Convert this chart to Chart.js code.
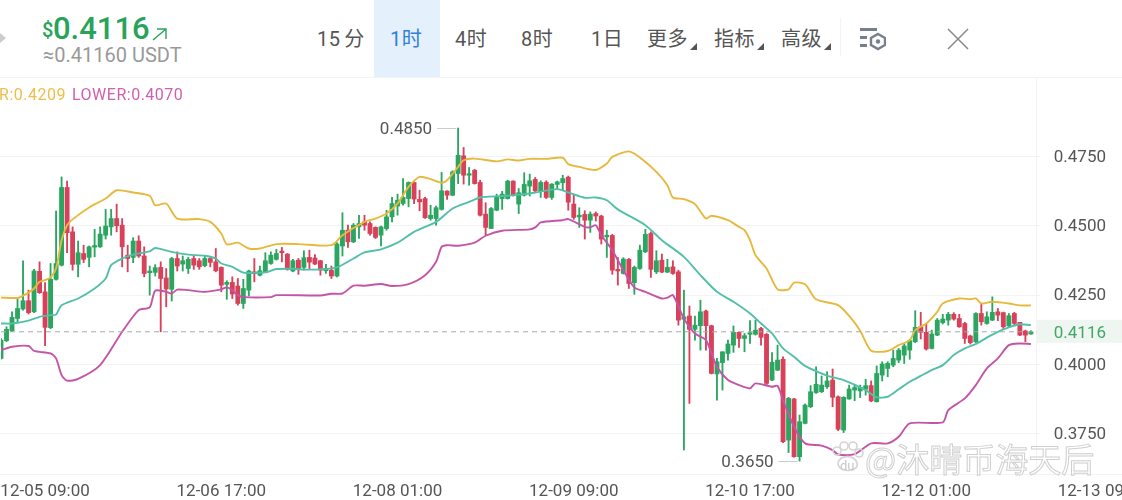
<!DOCTYPE html>
<html><head><meta charset="utf-8">
<style>
html,body{margin:0;padding:0;background:#fff;width:1122px;height:500px;overflow:hidden;font-family:Roboto,"Noto Sans CJK SC",sans-serif}
.t{position:absolute;white-space:nowrap;line-height:1}
.tab{top:29px;font-size:20px;color:#555;letter-spacing:.6px}
canvas{position:absolute;left:0;top:78px}
.tri{position:absolute;top:43px;width:0;height:0;border-left:7px solid transparent;border-bottom:7px solid #555}
</style></head><body>
<div style="position:absolute;left:0;top:77px;width:1122px;height:1px;background:#f3f3f3"></div>
<div style="position:absolute;left:374px;top:0;width:66px;height:77px;background:#e4f0fb"></div>
<div style="position:absolute;left:0;top:33px;width:0;height:0;border-left:6px solid #ccc;border-top:5px solid transparent;border-bottom:5px solid transparent"></div>
<div class="t" style="left:42px;top:20px;font-size:20px;color:#27a35a;font-weight:500">$</div>
<div class="t" style="left:53px;top:13px;font-size:31px;color:#27a35a;font-weight:500">0.4116</div>
<svg style="position:absolute;left:152px;top:27px" width="16" height="14"><path d="M1 13 L14 2 M5 2 H14 V12" fill="none" stroke="#27a35a" stroke-width="1.4"/></svg>
<div class="t" style="left:43px;top:45px;font-size:20px;color:#999">≈0.41160 USDT</div>
<div class="t tab" style="left:317px;word-spacing:-2px">15 分</div>
<div class="t tab" style="left:390px;color:#2f7fd8">1时</div>
<div class="t tab" style="left:455px">4时</div>
<div class="t tab" style="left:521px">8时</div>
<div class="t tab" style="left:591px">1日</div>
<div class="t tab" style="left:647px">更多</div><div class="tri" style="left:690px"></div>
<div class="t tab" style="left:714px">指标</div><div class="tri" style="left:757px"></div>
<div class="t tab" style="left:781px">高级</div><div class="tri" style="left:824px"></div>
<div style="position:absolute;left:840px;top:18px;width:1px;height:38px;background:#f4f4f4"></div>
<svg style="position:absolute;left:860px;top:27px" width="26" height="24"><g fill="#76808c"><rect x="0" y="1" width="17" height="3"/><rect x="0" y="9" width="7" height="3"/><rect x="0" y="17" width="7" height="3"/></g><path d="M18 7 L25 11 V18 L18 22 L11 18 V11 Z" fill="none" stroke="#76808c" stroke-width="2.4"/><circle cx="18" cy="14.5" r="2.2" fill="#76808c"/></svg>
<svg style="position:absolute;left:946px;top:27px" width="24" height="24"><path d="M2 2 L22 22 M22 2 L2 22" stroke="#888" stroke-width="1.5"/></svg>
<canvas id="c" width="1122" height="422"></canvas>
<div class="t" style="right:1056px;top:87px;font-size:16px;color:#eebd4a;letter-spacing:.5px">UPPER:0.4209</div>
<div class="t" style="left:72px;top:87px;font-size:16px;color:#d05fb0;letter-spacing:.5px">LOWER:0.4070</div>
<svg style="position:absolute;left:830px;top:441px" width="34" height="34"><g fill="none" stroke="#d4d4d4" stroke-width="1.6"><circle cx="7" cy="10" r="4"/><circle cx="14" cy="5" r="4"/><circle cx="23" cy="5" r="4"/><circle cx="29" cy="12" r="4"/><path d="M8 22 C10 14 24 13 27 22 C30 31 8 33 8 22 Z"/></g><text x="10" y="29" font-size="13" font-family="Roboto" fill="#c9c9c9">du</text></svg>
<div class="t" style="left:865px;top:442px;font-size:33px;color:rgba(255,255,255,.55);-webkit-text-stroke:1px #cfcfcf;font-family:'Noto Sans CJK SC',sans-serif">@沐晴币海天后</div>
<script src="https://cdn.jsdelivr.net/npm/chart.js@4"></script>
<script>
const tickIndex=[8,40,72,104,136,168,200];
const tickLabels=['12-05 09:00','12-06 17:00','12-08 01:00','12-09 09:00','12-10 17:00','12-12 01:00','12-13 09:00'];
const priceTicks=[0.375,0.4,0.4116,0.425,0.45,0.475];
const lastPrice=0.4116;
const opens=[.4020,.4084,.4120,.4164,.4198,.4228,.4188,.4334,.4260,.4131,.4305,.4356,.4636,.4476,.4359,.4398,.4384,.4421,.4422,.4464,.4494,.4524,.4500,.4392,.4384,.4443,.4389,.4329,.4330,.4348,.4310,.4269,.4380,.4360,.4344,.4380,.4372,.4354,.4380,.4368,.4348,.4287,.4294,.4281,.4218,.4266,.4332,.4320,.4332,.4362,.4377,.4403,.4396,.4335,.4374,.4348,.4384,.4382,.4372,.4336,.4338,.4317,.4425,.4482,.4440,.4494,.4512,.4506,.4492,.4464,.4488,.4530,.4569,.4578,.4596,.4654,.4593,.4596,.4524,.4524,.4557,.4623,.4608,.4686,.4750,.4680,.4698,.4654,.4540,.4488,.4554,.4596,.4596,.4659,.4576,.4608,.4641,.4665,.4623,.4655,.4600,.4647,.4653,.4673,.4576,.4530,.4539,.4518,.4542,.4533,.4458,.4463,.4341,.4326,.4377,.4293,.4344,.4404,.4470,.4332,.4374,.4331,.4350,.4332,.4161,.4173,.4125,.4138,.4191,.4138,.3964,.4005,.4038,.4068,.4114,.4092,.4107,.4107,.4128,.4107,.3942,.3978,.4017,.3726,.3874,.3666,.3786,.3846,.3897,.3900,.3918,.3942,.3882,.3762,.3874,.3906,.3903,.3909,.3922,.3864,.3960,.3984,.3996,.4014,.4032,.4050,.4080,.4134,.4114,.4056,.4104,.4149,.4158,.4179,.4164,.4146,.4101,.4080,.4182,.4146,.4158,.4188,.4185,.4137,.4182,.4150,.4119,.4108];
const closes=[.4086,.4125,.4168,.4200,.4228,.4185,.4335,.4257,.4132,.4305,.4362,.4636,.4473,.4359,.4401,.4377,.4422,.4426,.4468,.4497,.4524,.4498,.4422,.4380,.4443,.4389,.4326,.4335,.4347,.4308,.4270,.4380,.4353,.4372,.4377,.4356,.4350,.4380,.4366,.4336,.4284,.4294,.4252,.4218,.4272,.4335,.4326,.4336,.4372,.4392,.4398,.4401,.4341,.4372,.4343,.4383,.4367,.4360,.4338,.4344,.4317,.4432,.4482,.4440,.4500,.4506,.4500,.4470,.4456,.4494,.4530,.4578,.4590,.4600,.4654,.4594,.4584,.4527,.4536,.4563,.4624,.4608,.4692,.4752,.4680,.4684,.4650,.4536,.4492,.4560,.4602,.4612,.4659,.4608,.4617,.4647,.4660,.4624,.4654,.4600,.4648,.4656,.4668,.4583,.4528,.4536,.4518,.4540,.4533,.4450,.4462,.4338,.4335,.4378,.4290,.4348,.4410,.4467,.4341,.4372,.4331,.4348,.4326,.4158,.4170,.4125,.4140,.4188,.4138,.3966,.4008,.4044,.4072,.4114,.4092,.4102,.4110,.4122,.4096,.3930,.4006,.4014,.3720,.3876,.3666,.3792,.3852,.3900,.3927,.3924,.3939,.3880,.3765,.3880,.3910,.3915,.3916,.3922,.3867,.3966,.4000,.4002,.4020,.4050,.4065,.4084,.4132,.4114,.4054,.4108,.4158,.4162,.4179,.4162,.4134,.4092,.4077,.4182,.4152,.4170,.4186,.4176,.4134,.4174,.4146,.4104,.4104,.4116];
const highs=[.4092,.4134,.4188,.4236,.4372,.4266,.4341,.4368,.4293,.4362,.4551,.4674,.4659,.4494,.4443,.4428,.4425,.4485,.4494,.4557,.4557,.4576,.4524,.4428,.4455,.4462,.4422,.4353,.4358,.4368,.4344,.4384,.4404,.4389,.4384,.4389,.4380,.4389,.4384,.4416,.4350,.4300,.4314,.4308,.4305,.4338,.4380,.4353,.4401,.4404,.4413,.4420,.4398,.4377,.4380,.4408,.4410,.4394,.4374,.4359,.4353,.4437,.4545,.4500,.4506,.4536,.4536,.4512,.4494,.4497,.4554,.4600,.4612,.4668,.4656,.4656,.4626,.4600,.4572,.4569,.4690,.4624,.4696,.4850,.4780,.4708,.4701,.4662,.4581,.4564,.4612,.4622,.4662,.4660,.4632,.4689,.4684,.4672,.4660,.4660,.4650,.4659,.4680,.4677,.4608,.4563,.4552,.4548,.4548,.4536,.4482,.4467,.4384,.4383,.4380,.4353,.4428,.4485,.4476,.4408,.4396,.4377,.4372,.4338,.4266,.4209,.4173,.4230,.4194,.4140,.4020,.4044,.4086,.4137,.4116,.4110,.4156,.4158,.4132,.4110,.4041,.4068,.4026,.3880,.3876,.3816,.3856,.3922,.3990,.3957,.3972,.3982,.3885,.3882,.3924,.3924,.3924,.3945,.3939,.3993,.4008,.4008,.4050,.4056,.4072,.4089,.4192,.4186,.4146,.4122,.4164,.4179,.4186,.4185,.4179,.4150,.4104,.4185,.4218,.4188,.4242,.4200,.4187,.4182,.4186,.4150,.4122,.4120];
const lows=[.4017,.4080,.4116,.4152,.4194,.4180,.4185,.4254,.4066,.4127,.4302,.4353,.4401,.4338,.4314,.4365,.4350,.4386,.4420,.4450,.4464,.4476,.4350,.4332,.4365,.4384,.4314,.4248,.4317,.4116,.4206,.4227,.4335,.4335,.4326,.4341,.4341,.4350,.4350,.4332,.4260,.4233,.4236,.4212,.4200,.4245,.4296,.4317,.4330,.4359,.4374,.4368,.4338,.4332,.4323,.4338,.4344,.4358,.4320,.4326,.4308,.4314,.4389,.4420,.4437,.4452,.4482,.4464,.4452,.4425,.4482,.4512,.4536,.4572,.4566,.4578,.4552,.4524,.4518,.4500,.4554,.4593,.4606,.4650,.4648,.4644,.4648,.4533,.4464,.4488,.4552,.4557,.4594,.4605,.4542,.4605,.4605,.4620,.4600,.4596,.4593,.4629,.4626,.4554,.4521,.4492,.4450,.4474,.4515,.4432,.4384,.4323,.4284,.4324,.4272,.4251,.4341,.4401,.4312,.4326,.4329,.4329,.4323,.4140,.3690,.3858,.4086,.4050,.4050,.3964,.3870,.3906,.4014,.4042,.4060,.4044,.4074,.4104,.4068,.3924,.3940,.3976,.3717,.3681,.3664,.3650,.3784,.3843,.3894,.3897,.3912,.3846,.3760,.3753,.3873,.3868,.3879,.3888,.3864,.3863,.3939,.3954,.3990,.4005,.4002,.4017,.4077,.4090,.4050,.4054,.4102,.4144,.4140,.4158,.4132,.4074,.4072,.4077,.4140,.4143,.4156,.4156,.4128,.4134,.4140,.4102,.4080,.4107];
const upperAt=[0,3,4,5,6,7,8,9,10,11,12,13,16,19,21,24,27,28,30,32,36,38,40,41,43,45,47,50,54,60,62,66,68,70,72,74,76,78,80,81,83,84,86,90,92,94,96,99,102,103,105,108,110,111,114,116,119,121,122,124,126,128,129,132,134,135,136,137,139,141,143,144,146,148,152,154,156,158,161,163,165,166,168,170,171,174,176,177,178,180,183,185,187];
const upperVals=[.4239,.4238,.4246,.4257,.4272,.4296,.4302,.4312,.4344,.4446,.4500,.4521,.4564,.4596,.4626,.4618,.4606,.4572,.4578,.4524,.4522,.4512,.4470,.4431,.4437,.4416,.4416,.4432,.4432,.4428,.4464,.4512,.4524,.4542,.4578,.4638,.4674,.4666,.4653,.4662,.4710,.4734,.4740,.4730,.4737,.4733,.4739,.4739,.4743,.4720,.4710,.4699,.4722,.4746,.4766,.4744,.4692,.4644,.4600,.4594,.4576,.4524,.4534,.4518,.4494,.4482,.4446,.4392,.4344,.4269,.4269,.4293,.4287,.4233,.4212,.4173,.4120,.4048,.4047,.4068,.4085,.4122,.4146,.4188,.4218,.4236,.4233,.4236,.4218,.4224,.4218,.4211,.4211];
const midAt=[0,2,5,7,9,10,11,14,17,19,20,22,24,27,28,31,34,37,39,40,42,44,46,48,50,53,55,58,61,64,66,69,72,75,79,82,85,87,91,95,97,101,103,106,108,110,112,117,120,124,127,130,133,136,138,140,142,144,146,150,153,157,159,161,163,165,167,169,171,173,175,177,179,181,183,185,187];
const midVals=[.4146,.4146,.4156,.4170,.4176,.4178,.4212,.4236,.4272,.4308,.4356,.4380,.4394,.4406,.4418,.4404,.4394,.4390,.4380,.4362,.4350,.4329,.4329,.4330,.4342,.4343,.4340,.4341,.4348,.4380,.4402,.4413,.4437,.4476,.4512,.4560,.4584,.4600,.4605,.4612,.4618,.4630,.4618,.4599,.4600,.4590,.4557,.4500,.4446,.4386,.4320,.4260,.4224,.4182,.4146,.4110,.4056,.4026,.3993,.3958,.3942,.3906,.3880,.3882,.3909,.3936,.3957,.3978,.3996,.4032,.4056,.4072,.4095,.4116,.4132,.4143,.4140];
const lowerAt=[0,2,5,6,9,10,11,12,14,18,22,25,27,28,30,31,32,34,37,40,41,42,43,44,49,50,58,60,62,64,66,69,71,74,77,79,80,81,83,86,88,91,96,97,98,102,103,106,107,108,109,111,113,115,117,120,121,122,124,126,128,130,132,134,136,137,140,141,142,144,146,149,151,152,155,158,161,163,165,171,172,175,177,179,181,183,185,187];
const lowerVals=[.4050,.4062,.4065,.4047,.4038,.4020,.3960,.3940,.3946,.3996,.4116,.4194,.4204,.4264,.4260,.4254,.4268,.4266,.4260,.4269,.4276,.4266,.4248,.4241,.4241,.4248,.4247,.4253,.4254,.4282,.4282,.4288,.4281,.4288,.4320,.4368,.4422,.4428,.4426,.4437,.4462,.4480,.4485,.4492,.4510,.4518,.4522,.4494,.4492,.4500,.4464,.4410,.4338,.4276,.4260,.4236,.4239,.4248,.4164,.4110,.4086,.3990,.3942,.3924,.3912,.3930,.3918,.3921,.3870,.3774,.3714,.3706,.3690,.3674,.3675,.3714,.3714,.3738,.3786,.3790,.3834,.3876,.3924,.3984,.4020,.4068,.4074,.4072];

const UP='#2aa660',DOWN='#d9405a';
const labels=Array.from({length:204},(_,i)=>{const k=tickIndex.indexOf(i);return k<0?'':tickLabels[k];});
const colors=opens.map((o,i)=>closes[i]>=o?UP:DOWN);
const sparse=(at,vals)=>{const a=new Array(188).fill(null);at.forEach((x,k)=>a[x]=vals[k]);return a;};
const lineDs=(data,color,o)=>({type:'line',data,borderColor:color,borderWidth:1.9,pointRadius:0,spanGaps:true,tension:0.25,order:1,...o});
const noPad=s=>{s.paddingLeft=s.paddingRight=s.paddingTop=s.paddingBottom=0;if(s._margins){s._margins.left=s._margins.right=s._margins.top=s._margins.bottom=0;}};
const overlay={id:'overlay',
 beforeDraw(ch){const c=ch.ctx,y=ch.scales.y;c.save();
  c.fillStyle='#eff6f1';const py=y.getPixelForValue(lastPrice);c.fillRect(1036,py-12,86,23);c.restore();},
 beforeDatasetsDraw(ch){const c=ch.ctx,y=ch.scales.y,a=ch.chartArea;c.save();
  c.strokeStyle='#f3f3f3';c.lineWidth=1;
  priceTicks.filter(v=>v!==lastPrice).forEach(v=>{const p=Math.round(y.getPixelForValue(v))+.5;c.beginPath();c.moveTo(0,p);c.lineTo(1040,p);c.stroke();});
  c.beginPath();c.moveTo(1036.5,0);c.lineTo(1036.5,a.bottom);c.moveTo(0,a.bottom+.5);c.lineTo(1122,a.bottom+.5);c.stroke();
  c.restore();},
 afterDatasetsDraw(ch){const c=ch.ctx,x=ch.scales.x,y=ch.scales.y;c.save();
  c.font='17px Roboto';c.fillStyle='#555';c.textAlign='right';c.textBaseline='middle';c.strokeStyle='#ccc';c.lineWidth=1;
  const mark=(val)=>{const i=(val===Math.max(...highs)?highs:lows).indexOf(val);const px=x.getPixelForValue(i),py=y.getPixelForValue(val);
   c.beginPath();c.moveTo(px-21,Math.round(py)+.5);c.lineTo(px-2,Math.round(py)+.5);c.stroke();c.fillText(val.toFixed(4),px-26,py+1.5);};
  mark(Math.max(...highs));mark(Math.min(...lows));c.restore();}};
new Chart(document.getElementById('c'),{
 data:{labels,datasets:[
  lineDs(new Array(189).fill(lastPrice),'#a8a8a8',{borderWidth:1,borderDash:[5,4],tension:0,order:0}),
  lineDs(sparse(upperAt,upperVals),'#e6b93c'),
  lineDs(sparse(midAt,midVals),'#52bfa9'),
  lineDs(sparse(lowerAt,lowerVals),'#c455a6'),
  {type:'bar',data:opens.map((o,i)=>[Math.min(o,closes[i]),Math.max(o,closes[i])]),backgroundColor:colors,barThickness:4.2,minBarLength:1.6,grouped:false,order:2},
  {type:'bar',data:lows.map((l,i)=>[l,highs[i]]),backgroundColor:colors,barThickness:1.2,grouped:false,order:3}
 ]},
 options:{responsive:false,animation:false,events:[],
  layout:{autoPadding:false,padding:{left:1,right:3,top:0,bottom:0}},
  plugins:{legend:{display:false},tooltip:{enabled:false}},
  scales:{
   x:{type:'category',offset:false,grid:{display:false,drawTicks:false},border:{display:false},
    afterFit(s){s.height=26;noPad(s);},
    ticks:{autoSkip:false,maxRotation:0,minRotation:0,padding:8,color:'#555',font:{family:'Roboto',size:17},
     callback(v){return this.getLabelForValue(v);}}},
   y:{type:'linear',position:'right',min:0.36037,max:0.50303,grid:{display:false,drawTicks:false},border:{display:false},
    afterFit(s){s.width=0;noPad(s);},
    afterBuildTicks(s){s.ticks=priceTicks.map(value=>({value}));},
    ticks:{autoSkip:false,mirror:true,padding:-13,labelOffset:1.5,font:{family:'Roboto',size:17},
     color:c=>c.tick.value===lastPrice?'#3fa868':'#555',
     callback:v=>v.toFixed(4)}}
  }},
 plugins:[overlay]
});
</script>
</body></html>
